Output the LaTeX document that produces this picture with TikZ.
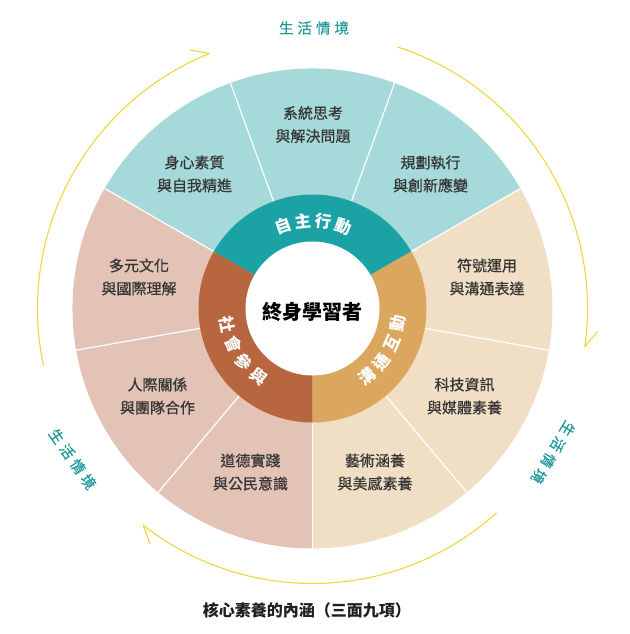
\documentclass[tikz,border=0pt]{standalone}
\usepackage{fontspec}
\newfontfamily\cjk{Noto Sans CJK TC}
\newfontfamily\cjkm{Noto Sans CJK TC}[FakeBold=0.6]
\definecolor{cyanL}{HTML}{A6D9DA}
\definecolor{tealM}{HTML}{1AA2A5}
\definecolor{pinkL}{HTML}{E2C3B6}
\definecolor{brownM}{HTML}{B8663F}
\definecolor{tanL}{HTML}{F0DFC5}
\definecolor{goldM}{HTML}{DBA65E}
\definecolor{yel}{HTML}{F2D53C}
\definecolor{ltext}{HTML}{1F989C}
\definecolor{dtext}{HTML}{363636}
\newcommand\ctxtext{生\kern4pt 活\kern4pt 情\kern4pt 境}
\begin{document}
\begin{tikzpicture}[x=1pt,y=1pt,
  seglabel/.style={font=\cjkm\fontsize{15}{23}\selectfont, text=dtext, align=center, inner sep=0pt},
  ringchar/.style={font=\cjk\bfseries\fontsize{16.5}{16.5}\selectfont, text=white, inner sep=0pt},
  ctxlabel/.style={font=\cjkm\fontsize{14.5}{14.5}\selectfont, text=ltext, inner sep=0pt},
  divider/.style={draw=white, line width=1.2pt},
  yarc/.style={draw=yel, line width=1.1pt}
]
\useasboundingbox (-312.5,-325.5) rectangle (316.5,308.5);
% outer ring sectors
\fill[cyanL] (0,0) -- (30:240) arc[start angle=30,end angle=150,radius=240] -- cycle;
\fill[pinkL] (0,0) -- (150:240) arc[start angle=150,end angle=270,radius=240] -- cycle;
\fill[tanL] (0,0) -- (270:240) arc[start angle=270,end angle=390,radius=240] -- cycle;
\foreach \a in {30,70,110,150,190,230,270,310,350}
  \draw[divider] (\a:114) -- (\a:240);
% middle ring
\fill[tealM] (0,0) -- (30:114) arc[start angle=30,end angle=150,radius=114] -- cycle;
\fill[brownM] (0,0) -- (150:114) arc[start angle=150,end angle=270,radius=114] -- cycle;
\fill[goldM] (0,0) -- (270:114) arc[start angle=270,end angle=390,radius=114] -- cycle;
\fill[white] (0,0) circle[radius=67];
% centre
\node[font=\cjk\bfseries\fontsize{20}{20}\selectfont, text=black, inner sep=0pt] (learner) at (0,-3) {終身學習者};
% ring labels
\foreach \c [count=\i] in {自,主,行,動} {
  \pgfmathsetmacro\ang{109.5-(\i-1)*13.4}
  \node[ringchar, rotate=\ang-90] (ta\i) at (\ang:88) {\c};
}
\foreach \c [count=\i] in {社,會,參,與} {
  \pgfmathsetmacro\ang{190.5+(\i-1)*13.8}
  \node[ringchar, rotate=\ang+90] (tb\i) at (\ang:87) {\c};
}
\foreach \c [count=\i] in {溝,通,互,動} {
  \pgfmathsetmacro\ang{-51.5+(\i-1)*13.8}
  \node[ringchar, rotate=\ang+90] (tc\i) at (\ang:87) {\c};
}
% outer labels
\node[seglabel] (s1) at (0.5,184) {系統思考\\與解決問題};
\node[seglabel] (s2) at (-118,134.5) {身心素質\\與自我精進};
\node[seglabel] (s3) at (118,134.5) {規劃執行\\與創新應變};
\node[seglabel] (s4) at (-173.5,31.5) {多元文化\\與國際理解};
\node[seglabel] (s5) at (174.5,31.5) {符號運用\\與溝通表達};
\node[seglabel] (s6) at (-155,-87.5) {人際關係\\與團隊合作};
\node[seglabel] (s7) at (152,-87.5) {科技資訊\\與媒體素養};
\node[seglabel] (s8) at (-62,-163.5) {道德實踐\\與公民意識};
\node[seglabel] (s9) at (62.5,-163.5) {藝術涵養\\與美感素養};
% context arcs
\foreach \s/\n in {192/a,72/b,-48/c} {
  \pgfmathsetmacro\e{\s-80}
  \coordinate (arcS\n) at (\s:275);
  \coordinate (arcT\n) at (\e:275);
  \draw[yarc] (arcS\n) arc[start angle=\s, end angle=\e, radius=275];
  \draw[yarc] (arcT\n) -- ++({\e+58}:20);
}
\node[ctxlabel] (ctxtop) at (1.5,280.5) {\ctxtext};
\node[ctxlabel, rotate=-55] (ctxleft) at (-240,-150.5) {\ctxtext};
\node[ctxlabel, rotate=239] (ctxright) at (240.5,-144) {\ctxtext};
% title
\node[font=\cjk\bfseries\fontsize{16}{16}\selectfont, text=black!88, inner sep=0pt] (title) at (-5.5,-301.5) {核心素養的內涵（三面九項）};
\end{tikzpicture}
\end{document}
